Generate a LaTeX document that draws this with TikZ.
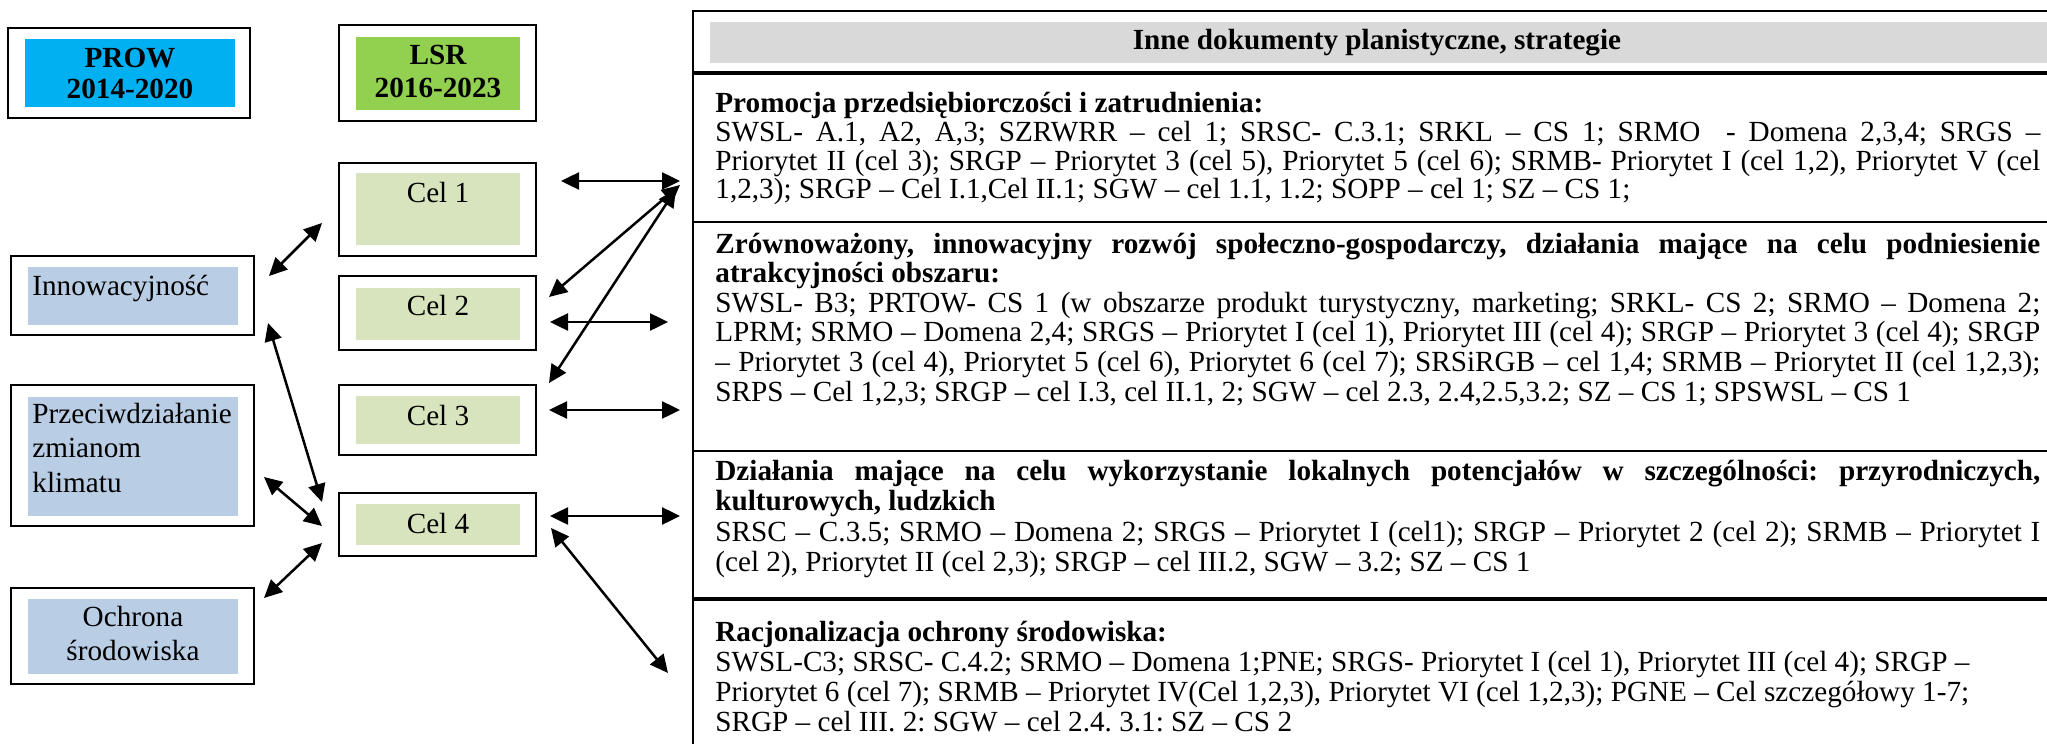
\documentclass[tikz,border=0pt]{standalone}
\usepackage{fontspec}
\setmainfont{Liberation Serif}
\usetikzlibrary{arrows.meta}
\definecolor{prowcyan}{HTML}{00B0F0}
\definecolor{lsrgreen}{HTML}{92D050}
\definecolor{celgreen}{HTML}{D7E4BD}
\definecolor{areablue}{HTML}{B9CDE5}
\definecolor{headgray}{HTML}{D9D9D9}
\newcommand\jl[1]{\hbox to \hsize{#1}}
\newcommand\fl[1]{\hbox to \hsize{#1\hfil}}
\newcommand\cl[1]{\hbox to \hsize{\hfil#1\hfil}}
\newcommand\blk[3]{\vtop{\frenchspacing\hsize=#1\baselineskip=#2\lineskiplimit=-100pt\lineskip=0pt #3}}
\begin{document}
\begin{tikzpicture}[x=0.5pt,y=-0.5pt,
  outerbox/.style={draw, line width=1pt, fill=white, inner sep=0pt},
  innerbox/.style={inner sep=0pt, draw=none},
  txt/.style={inner sep=0pt, font=\fontsize{14.6pt}{14.6pt}\selectfont},
  btxt/.style={inner sep=0pt, font=\fontsize{14.6pt}{14.6pt}\selectfont\bfseries},
  biarrow/.style={line width=1.25pt, {Triangle[length=9pt,width=8.5pt]}-{Triangle[length=9pt,width=8.5pt]}},
  rowrule/.style={line width=1pt},
]
\useasboundingbox (0,0) rectangle (2047,744);

% ---------- header boxes ----------
\node[outerbox, minimum width=121pt, minimum height=45pt] (prow) at (129,73) {};
\node[innerbox, fill=prowcyan, minimum width=105pt, minimum height=34pt] (prowin) at (130,73) {};
\node[btxt, anchor=base] (prowt) at (130,67) {\blk{100pt}{16pt}{\cl{PROW}\cl{2014-2020}}};

\node[outerbox, minimum width=98.5pt, minimum height=48pt] (lsr) at (437.5,73) {};
\node[innerbox, fill=lsrgreen, minimum width=82pt, minimum height=36.5pt] (lsrin) at (438,73.5) {};
\node[btxt, anchor=base] (lsrt) at (438,64) {\blk{80pt}{16.5pt}{\cl{LSR}\cl{2016-2023}}};

% ---------- Cel boxes ----------
\node[outerbox, minimum width=98.5pt, minimum height=46.5pt] (cel1) at (437.5,209.5) {};
\node[innerbox, fill=celgreen, minimum width=82pt, minimum height=36pt] (cel1in) at (438,209) {};
\node[txt, anchor=base] (cel1t) at (438,202) {Cel 1};

\node[outerbox, minimum width=98.5pt, minimum height=37pt] (cel2) at (437.5,313) {};
\node[innerbox, fill=celgreen, minimum width=82pt, minimum height=26pt] (cel2in) at (438,314) {};
\node[txt, anchor=base] (cel2t) at (438,315) {Cel 2};

\node[outerbox, minimum width=98.5pt, minimum height=35pt] (cel3) at (437.5,420) {};
\node[innerbox, fill=celgreen, minimum width=82pt, minimum height=24pt] (cel3in) at (438,420) {};
\node[txt, anchor=base] (cel3t) at (438,425) {Cel 3};

\node[outerbox, minimum width=98.5pt, minimum height=31.5pt] (cel4) at (437.5,524.5) {};
\node[innerbox, fill=celgreen, minimum width=82pt, minimum height=20.5pt] (cel4in) at (438,524.5) {};
\node[txt, anchor=base] (cel4t) at (438,533) {Cel 4};

% ---------- PROW areas ----------
\node[outerbox, minimum width=121.5pt, minimum height=39.5pt] (inno) at (132.5,295.5) {};
\node[innerbox, fill=areablue, minimum width=105pt, minimum height=29pt] (innoin) at (133,296) {};
\node[txt, anchor=base west] (innot) at (32,295) {Innowacyjność};

\node[outerbox, minimum width=121.5pt, minimum height=70.5pt] (prz) at (132.5,455.5) {};
\node[innerbox, fill=areablue, minimum width=105pt, minimum height=59.5pt] (przin) at (133,456.5) {};
\node[txt, anchor=base west] (przt) at (32,423) {\blk{104pt}{17.25pt}{\fl{Przeciwdziałanie}\fl{zmianom}\fl{klimatu}}};

\node[outerbox, minimum width=121.5pt, minimum height=48pt] (och) at (132.5,636) {};
\node[innerbox, fill=areablue, minimum width=105pt, minimum height=37.5pt] (ochin) at (133,636.5) {};
\node[txt, anchor=base] (ocht) at (133,626) {\blk{100pt}{17pt}{\cl{Ochrona}\cl{środowiska}}};

% ---------- table ----------
\draw[line width=1pt] (693,744) -- (693,11) -- (2047,11);
\node[innerbox, fill=headgray, minimum width=668.5pt, minimum height=20.5pt] (headbg) at (1378.5,42.5) {};
\node[btxt, anchor=base] (headt) at (1377,49) {Inne dokumenty planistyczne, strategie};
\draw[line width=1.6pt] (693,73) -- (2047,73);
\draw[rowrule] (693,222) -- (2047,222);
\draw[rowrule] (693,451) -- (2047,451);
\draw[line width=1.8pt] (693,599) -- (2047,599);

\node[txt, anchor=base west] (row1) at (715,112) {\blk{662.5pt}{14.5pt}{%
\bfseries\fl{Promocja przedsiębiorczości i zatrudnienia:}\mdseries
\jl{SWSL- A.1, A2, A,3; SZRWRR – cel 1; SRSC- C.3.1; SRKL – CS 1; SRMO\ \ - Domena 2,3,4; SRGS –}
\jl{Priorytet II (cel 3); SRGP – Priorytet 3 (cel 5), Priorytet 5 (cel 6); SRMB- Priorytet I (cel 1,2), Priorytet V (cel}
\fl{1,2,3); SRGP – Cel I.1,Cel II.1; SGW – cel 1.1, 1.2; SOPP – cel 1; SZ – CS 1;}}};

\node[txt, anchor=base west] (row2) at (715,253) {\blk{662.5pt}{14.8pt}{%
\bfseries\jl{Zrównoważony, innowacyjny rozwój społeczno-gospodarczy, działania mające na celu podniesienie}
\fl{atrakcyjności obszaru:}\mdseries
\jl{SWSL- B3; PRTOW- CS 1 (w obszarze produkt turystyczny, marketing; SRKL- CS 2; SRMO – Domena 2;}
\jl{LPRM; SRMO – Domena 2,4; SRGS – Priorytet I (cel 1), Priorytet III (cel 4); SRGP – Priorytet 3 (cel 4); SRGP}
\jl{– Priorytet 3 (cel 4), Priorytet 5 (cel 6), Priorytet 6 (cel 7); SRSiRGB – cel 1,4; SRMB – Priorytet II (cel 1,2,3);}
\fl{SRPS – Cel 1,2,3; SRGP – cel I.3, cel II.1, 2; SGW – cel 2.3, 2.4,2.5,3.2; SZ – CS 1; SPSWSL – CS 1}}};

\node[txt, anchor=base west] (row3) at (715,480) {\blk{662.5pt}{15.3pt}{%
\bfseries\jl{Działania mające na celu wykorzystanie lokalnych potencjałów w szczególności: przyrodniczych,}
\fl{kulturowych, ludzkich}\mdseries
\jl{SRSC – C.3.5; SRMO – Domena 2; SRGS – Priorytet I (cel1); SRGP – Priorytet 2 (cel 2); SRMB – Priorytet I}
\fl{(cel 2), Priorytet II (cel 2,3); SRGP – cel III.2, SGW – 3.2; SZ – CS 1}}};

\node[txt, anchor=base west] (row4) at (715,641) {\blk{662.5pt}{15pt}{%
\bfseries\fl{Racjonalizacja ochrony środowiska:}\mdseries
\fl{SWSL-C3; SRSC- C.4.2; SRMO – Domena 1;PNE; SRGS- Priorytet I (cel 1), Priorytet III (cel 4); SRGP –}
\fl{Priorytet 6 (cel 7); SRMB – Priorytet IV(Cel 1,2,3), Priorytet VI (cel 1,2,3); PGNE – Cel szczegółowy 1-7;}
\fl{SRGP – cel III. 2: SGW – cel 2.4. 3.1: SZ – CS 2}}};

% ---------- arrow end points ----------
\coordinate (c1e) at (561,181);  \coordinate (t1) at (680,181);
\coordinate (t1b) at (680,185);  \coordinate (c2n) at (549,297);
\coordinate (t1c) at (676,189);  \coordinate (c3n) at (549,383);
\coordinate (c2e) at (550,322);  \coordinate (t2) at (668,322);
\coordinate (c3e) at (549,410);  \coordinate (t3) at (680,410);
\coordinate (c4e) at (550,516);  \coordinate (t4) at (680,516);
\coordinate (c4s) at (551,528);  \coordinate (t5) at (668,673);
\coordinate (i1) at (269,276);   \coordinate (c1w) at (322,223);
\coordinate (i2) at (268,323);   \coordinate (c4n) at (322,502);
\coordinate (p1) at (264,477);   \coordinate (c4w) at (322,526);
\coordinate (o1) at (264,598);   \coordinate (c4sw) at (322,543);

\draw[biarrow] (c1e) -- (t1);
\draw[biarrow] (t1b) -- (c2n);
\draw[biarrow] (t1c) -- (c3n);
\draw[biarrow] (c2e) -- (t2);
\draw[biarrow] (c3e) -- (t3);
\draw[biarrow] (c4e) -- (t4);
\draw[biarrow] (c4s) -- (t5);
\draw[biarrow] (i1) -- (c1w);
\draw[biarrow] (i2) -- (c4n);
\draw[biarrow] (p1) -- (c4w);
\draw[biarrow] (o1) -- (c4sw);
\end{tikzpicture}
\end{document}
